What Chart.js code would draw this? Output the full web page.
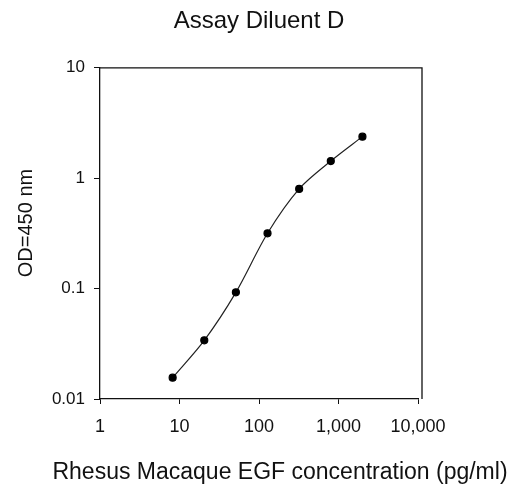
<!DOCTYPE html>
<html>
<head>
<meta charset="utf-8">
<script src="https://cdn.jsdelivr.net/npm/chart.js@4"></script>
<style>
  html, body { margin: 0; padding: 0; background: #fff; }
  #wrap { width: 523px; height: 488px; }
</style>
</head>
<body>
<div id="wrap"><canvas id="egfChart"></canvas></div>
<script>
// concentration (pg/ml) and OD at 450 nm
const concentration = [8.2, 20.5, 51.2, 128, 320, 800, 2000];
const od450 = [0.0156, 0.034, 0.0925, 0.317, 0.80, 1.43, 2.38];
const xTicks = [1, 10, 100, 1000, 10000];
const yTicks = [0.01, 0.1, 1, 10];
const xLabel = 'Rhesus Macaque EGF concentration (pg/ml)';
const yLabel = 'OD=450 nm';

const FONT = "'Liberation Sans', Arial, sans-serif";

// frame on top and right of plot area + axis titles
// (chart.js squeezes the x title to the axis width, so draw them here)
const frame = {
    id: 'frame',
    afterDraw(chart){
        const a = chart.chartArea;
        const ctx = chart.ctx;
        ctx.save();
        ctx.strokeStyle = '#111';
        ctx.lineWidth = 1.3;
        ctx.beginPath();
        ctx.moveTo(a.left, a.top);
        ctx.lineTo(a.right + 4, a.top);
        ctx.lineTo(a.right + 4, a.bottom);
        ctx.stroke();

        ctx.fillStyle = '#111';
        ctx.textAlign = 'center';
        ctx.textBaseline = 'alphabetic';
        ctx.font = '23px ' + FONT;
        ctx.fillText(xLabel, 280, 479);

        ctx.font = '20px ' + FONT;
        ctx.translate(32, 223);
        ctx.rotate(-Math.PI / 2);
        ctx.fillText(yLabel, 0, 0);
        ctx.restore();
    }
};

function egfChart(){
    const ctx = document.getElementById('egfChart');
    new Chart(ctx, {
    type: 'line',
    data: {
        datasets: [{
            label: 'Assay Diluent D',
            data: concentration.map((c, i) => ({x: c, y: od450[i]})),
            borderColor: '#222',
            borderWidth: 1.2,
            backgroundColor: '#000',
            pointBackgroundColor: '#000',
            pointBorderColor: '#000',
            pointRadius: 3.5,
            tension: 0.3,
        }]
    },
    options: {
        responsive: true,
        maintainAspectRatio: false,
        animation: false,
        layout: {
            padding: {left: 0, right: 5, top: 0, bottom: 0}
        },
        scales: {
            x: {
                type: 'logarithmic',
                min: 1,
                max: 10000,
                afterBuildTicks: axis => { axis.ticks = xTicks.map(v => ({value: v})); },
                afterFit: axis => { axis.height = 89; },
                grid: {
                    drawOnChartArea: false,
                    drawTicks: true,
                    tickLength: 5,
                    color: '#111',
                },
                border: {color: '#111', width: 1.3},
                ticks: {
                    autoSkip: false,
                    maxRotation: 0,
                    padding: 12,
                    color: '#111',
                    font: {family: FONT, size: 18},
                    callback: v => v.toLocaleString('en-US'),
                },
            },
            y: {
                type: 'logarithmic',
                min: 0.01,
                max: 10,
                afterBuildTicks: axis => { axis.ticks = yTicks.map(v => ({value: v})); },
                afterFit: axis => { axis.width = 100; },
                grid: {
                    drawOnChartArea: false,
                    drawTicks: true,
                    tickLength: 6,
                    color: '#111',
                },
                border: {color: '#111', width: 1.3},
                ticks: {
                    autoSkip: false,
                    padding: 9,
                    color: '#111',
                    font: {family: FONT, size: 17},
                    callback: v => v.toLocaleString('en-US'),
                },
            },
            // empty right axis, only reserves space so the title centres over the plot
            y2: {
                position: 'right',
                display: true,
                afterFit: axis => { axis.width = 100; },
                grid: {display: false},
                border: {display: false},
                ticks: {display: false},
            },
        },
        plugins: {
            title: {
                display: true,
                text: 'Assay Diluent D',
                color: '#111',
                font: {family: FONT, size: 24, weight: 'normal'},
                padding: {top: 7, bottom: 32},
            },
            legend: {
                display: false,
            },
            tooltip: {
                enabled: false,
            }
        }
    },
    plugins: [frame],
    });
}

egfChart();
</script>
</body>
</html>
